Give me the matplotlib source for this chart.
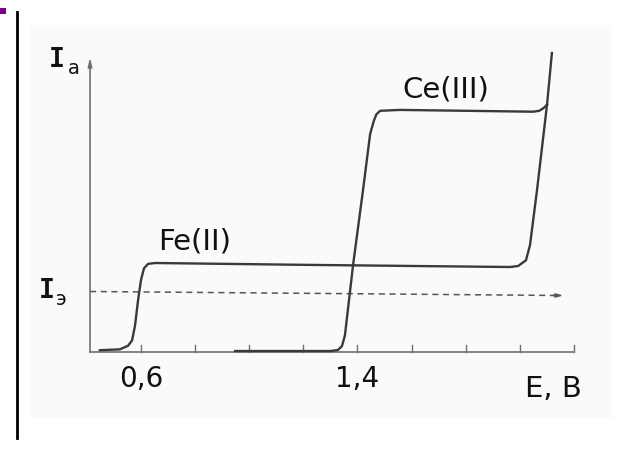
import matplotlib
matplotlib.use("Agg")
import matplotlib.pyplot as plt
from matplotlib.patches import Rectangle
from matplotlib.lines import Line2D

# curves (E in V, I in relative units, Fe plateau ~ 1)
fe_E = [0.448, 0.522, 0.552, 0.567, 0.578, 0.589, 0.600, 0.611, 0.626, 0.652,
        1.188, 1.964, 1.994, 2.023, 2.038, 2.064, 2.101, 2.119]
fe_I = [0.02, 0.03, 0.07, 0.13, 0.30, 0.58, 0.81, 0.94, 0.99, 1.00,
        0.98, 0.955, 0.966, 1.03, 1.20, 1.82, 2.78, 3.36]

ce_E = [0.948, 1.299, 1.328, 1.343, 1.354, 1.384, 1.421, 1.447, 1.461, 1.470,
        1.484, 1.558, 2.050, 2.072, 2.088, 2.101]
ce_I = [0.011, 0.011, 0.022, 0.067, 0.19, 0.98, 1.825, 2.45, 2.60, 2.67,
        2.71, 2.72, 2.70, 2.71, 2.74, 2.78]

i_e = [0.68, 0.635]          # dashed I_э level, left and right end
x_ticks = [0.6, 0.8, 1.0, 1.2, 1.4, 1.6, 1.8, 2.0, 2.2]
x_labels = {0.6: "0,6", 1.4: "1,4"}

E0, E1 = 0.4115, 2.197       # axis ends
I_top = 3.31

fig = plt.figure(figsize=(6.29, 4.5), dpi=100)
ax = fig.add_axes([0, 0, 1, 1])
ax.set_xlim(0.0787, 2.404)
ax.set_ylim(-1.101, 3.955)
ax.axis("off")

# scanned page backdrop
ax.add_patch(Rectangle((0.048, 0.071), 0.925, 0.873, transform=ax.transAxes,
                       facecolor="#fafafa", edgecolor="none", zorder=0))
fig.add_artist(Line2D([17 / 629, 17 / 629], [1 - 12 / 450, 1 - 438 / 450],
                      color="black", lw=2))
fig.add_artist(Rectangle((0, 1 - 14 / 450), 6 / 629, 6 / 450,
                         facecolor="#800080", edgecolor="none"))

axc = "#707070"
# axes
ax.plot([E0, E1], [0, 0], color=axc, lw=1.2)
ax.annotate("", xy=(E0, I_top), xytext=(E0, 0),
            arrowprops=dict(arrowstyle="-|>,head_length=0.5,head_width=0.12",
                            color=axc, lw=1.2, shrinkA=0, shrinkB=0))
for t in x_ticks:
    ax.plot([t, t], [0, 0.08], color=axc, lw=1.0)
for t, s in x_labels.items():
    ax.text(t, -0.30, s, ha="center", va="center", fontsize=20, color="#111")
ax.text(2.123, -0.42, "E, В", ha="center", va="center", fontsize=21, color="#111")

# dashed level
ax.plot([E0, 2.15], i_e, color="#555", lw=1.1, ls=(0, (4, 3)))
ax.annotate("", xy=(2.16, i_e[1]), xytext=(2.12, i_e[1]),
            arrowprops=dict(arrowstyle="-|>,head_length=0.4,head_width=0.12",
                            color="#555", lw=1.0, shrinkA=0, shrinkB=0))

# curves
ax.plot(fe_E, fe_I, color="#3a3a3a", lw=1.7, solid_joinstyle="round")
ax.plot(ce_E, ce_I, color="#3a3a3a", lw=1.7, solid_joinstyle="round")

ax.text(0.80, 1.24, "Fe(II)", ha="center", va="center", fontsize=21, color="#111")
ax.text(1.728, 2.95, "Ce(III)", ha="center", va="center", fontsize=21, color="#111")

# axis symbols
ax.text(0.290, 3.28, "I", ha="center", va="center", fontsize=19,
        family="DejaVu Sans Mono", weight="bold", color="#111")
ax.text(0.352, 3.19, "а", ha="center", va="center", fontsize=14, color="#111")
ax.text(0.2525, 0.69, "I", ha="center", va="center", fontsize=19,
        family="DejaVu Sans Mono", weight="bold", color="#111")
ax.text(0.304, 0.59, "э", ha="center", va="center", fontsize=14, color="#111")

fig.savefig("out.png", dpi=100, facecolor="white")
